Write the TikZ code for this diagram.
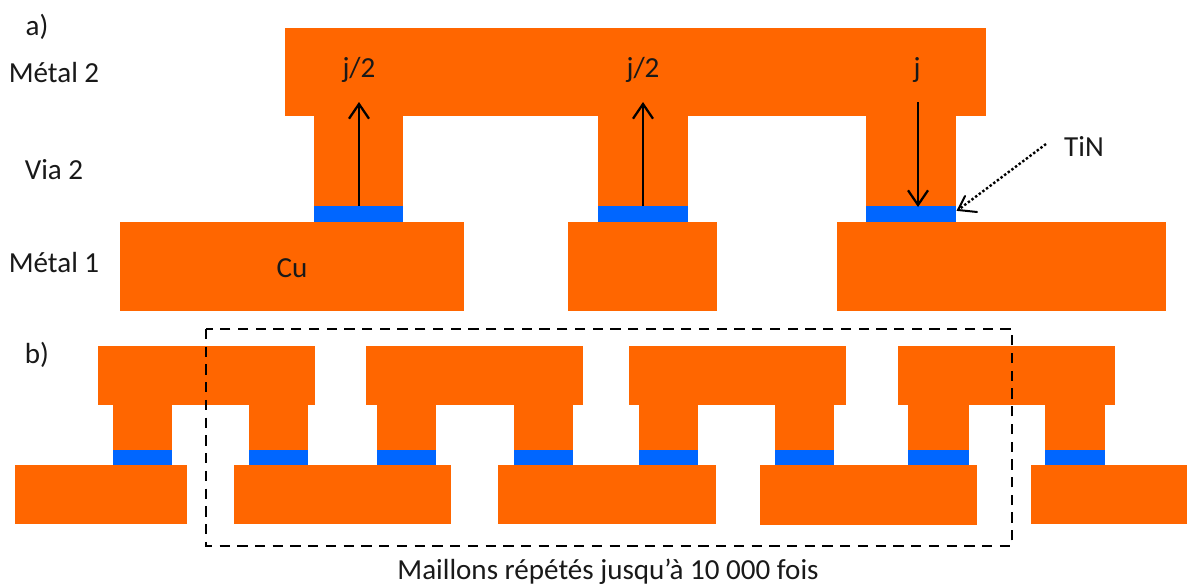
\documentclass[tikz,border=0pt]{standalone}
\usepackage{fontspec}
\setmainfont{Carlito}
\usetikzlibrary{arrows.meta}
\definecolor{cu}{HTML}{FF6600}
\definecolor{tin}{HTML}{0066FF}
\tikzset{
  cuf/.style={fill=cu,draw=none},
  tinf/.style={fill=tin,draw=none},
  lab/.style={inner sep=0pt,font=\fontsize{21.8}{24}\selectfont,text=black!90},
  cur/.style={line width=1.7pt,-{Straight Barb[length=11pt,width=15pt,line width=1.7pt]}},
  note/.style={line width=1.8pt,dash pattern=on 1.8pt off 1.6pt},
  notehead/.style={line width=1.5pt,line cap=round},
  frame/.style={line width=1.9pt,dash pattern=on 7.7pt off 5.6pt}
}
\newcommand{\viab}[3]{%
  \fill[cuf] (#1,#3) rectangle (#2,450);
  \fill[tinf] (#1,450) rectangle (#2,465);
}
\newcommand{\viaa}[2]{%
  \fill[cuf] (#1,110) rectangle (#2,206);
  \fill[tinf] (#1,206) rectangle (#2,222);
}
\begin{document}
\begin{tikzpicture}[x=0.75pt,y=-0.75pt]
\useasboundingbox (0,0) rectangle (1187,586);
% part a
\fill[cuf] (285,28) rectangle (986,116);
\viaa{314}{403}
\viaa{598}{688}
\viaa{866}{956}
\fill[cuf] (120,222) rectangle (464,311);
\fill[cuf] (568,222) rectangle (717,311);
\fill[cuf] (837,222) rectangle (1166,311);
% part b
\fill[cuf] (97.5,346) rectangle (315,405);
\fill[cuf] (366,346) rectangle (583,405);
\fill[cuf] (629,346) rectangle (846,405);
\fill[cuf] (898,346) rectangle (1115,405);
\viab{113}{172}{400}
\viab{249}{308}{400}
\viab{377}{436}{400}
\viab{514}{573}{400}
\viab{639}{698}{400}
\viab{775}{834}{400}
\viab{908}{969}{400}
\viab{1045}{1105}{400}
\fill[cuf] (15,465) rectangle (187,524);
\fill[cuf] (234,465) rectangle (451,524);
\fill[cuf] (498,465) rectangle (716,524);
\fill[cuf] (760,465) rectangle (977,525);
\fill[cuf] (1031,465) rectangle (1187,524);
% dashed frame
\draw[frame] (206,329) rectangle (1012,546);
% labels
\node[lab] (a) at (37,27) {a)};
\node[lab] (m2) at (54,73) {Métal 2};
\node[lab] (v2) at (54,170) {Via 2};
\node[lab] (m1) at (54,263) {Métal 1};
\node[lab] (b) at (37,355) {b)};
\node[lab] (cu) at (292,268) {Cu};
\node[lab] (j1) at (359,70) {j/2};
\node[lab] (j2) at (643,70) {j/2};
\node[lab] (j3) at (917,70) {j};
\node[lab] (tin) at (1084,146) {TiN};
\node[lab] (mail) at (608,572) {Maillons répétés jusqu’à 10 000 fois};
% arrows
\coordinate (a1s) at (359,206); \coordinate (a1e) at (359,102);
\coordinate (a2s) at (643,206); \coordinate (a2e) at (643,102);
\coordinate (a3s) at (918,102); \coordinate (a3e) at (918,207);
\coordinate (ts) at (1046,144); \coordinate (te) at (958,210);
\coordinate (th1) at (965,196); \coordinate (th2) at (977,212);
\draw[cur] (a1s) -- (a1e);
\draw[cur] (a2s) -- (a2e);
\draw[cur] (a3s) -- (a3e);
\draw[note] (ts) -- (te);
\draw[notehead] (th1) -- (te) -- (th2);
\end{tikzpicture}
\end{document}
